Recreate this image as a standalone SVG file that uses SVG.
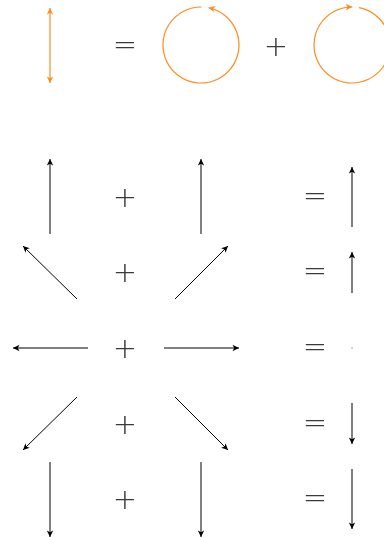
<svg xmlns="http://www.w3.org/2000/svg" width="384" height="537" viewBox="0 0 384 537">
<style>
.op{font-family:"DejaVu Sans","Liberation Sans",sans-serif;font-weight:200;font-size:29px;fill:#3a3a3a;text-anchor:middle}
.ops{filter:url(#gray)}
.k{stroke:#000;stroke-width:1;fill:none;marker-end:url(#ak)}
.o{stroke:#fd8c1f;stroke-width:1.2;fill:none}
</style>
<defs>
<filter id="gray" x="0" y="0" width="1" height="1" filterUnits="objectBoundingBox"><feOffset dx="0" dy="0"/></filter>
<marker id="ak" markerUnits="userSpaceOnUse" markerWidth="10" markerHeight="10" viewBox="-8 -4 10 8" refX="0" refY="0" orient="auto"><path d="M0,0 L-6.5,-3.2 L-4.8,0 L-6.5,3.2 Z" fill="#000"/></marker>
<marker id="ao" markerUnits="userSpaceOnUse" markerWidth="10" markerHeight="10" viewBox="-8 -4 10 8" refX="0" refY="0" orient="auto-start-reverse"><path d="M0,0 L-6.5,-3.2 L-4.8,0 L-6.5,3.2 Z" fill="#fd8c1f"/></marker>
</defs>
<g id="top">
<g id="orange-arrow"><line class="o" x1="50" y1="8" x2="50" y2="83" marker-start="url(#ao)" marker-end="url(#ao)"/></g>
<g id="eq-top" class="ops"><text class="op" x="125" y="53.5">=</text></g>
<g id="circle-ccw"><path class="o" d="M208.5,7.75 A38,38 0 1 1 201.5,7" marker-start="url(#ao)"/></g>
<g id="plus-top" class="ops"><text class="op" x="276" y="55.5">+</text></g>
<g id="circle-cw"><path class="o" d="M359,7.65 A38,38 0 1 1 352.3,7" marker-end="url(#ao)"/></g>
</g>
<g id="operators" class="ops">
<text class="op" x="125" y="206.5">+</text>
<text class="op" x="125" y="281.5">+</text>
<text class="op" x="125" y="357.5">+</text>
<text class="op" x="125" y="433.5">+</text>
<text class="op" x="125" y="508.5">+</text>
<text class="op" x="315" y="204.5">=</text>
<text class="op" x="315" y="279.5">=</text>
<text class="op" x="315" y="355.5">=</text>
<text class="op" x="315" y="431.5">=</text>
<text class="op" x="315" y="506.5">=</text>
</g>
<g id="connectors">
<line class="k" x1="50" y1="234" x2="50" y2="159"/>
<line class="k" x1="201" y1="234" x2="201" y2="159"/>
<line class="k" x1="352" y1="227" x2="352" y2="167"/>
<line class="k" x1="77" y1="299" x2="23" y2="246"/>
<line class="k" x1="175" y1="299" x2="228" y2="246"/>
<line class="k" x1="352" y1="293" x2="352" y2="252"/>
<line class="k" x1="88" y1="348" x2="13" y2="348"/>
<line class="k" x1="164" y1="348" x2="239" y2="348"/>
<line x1="352" y1="347.6" x2="352" y2="348.4" stroke="#000" stroke-width="0.8"/>
<line class="k" x1="77" y1="397" x2="23" y2="450"/>
<line class="k" x1="175" y1="397" x2="228" y2="450"/>
<line class="k" x1="352" y1="403" x2="352" y2="444"/>
<line class="k" x1="50" y1="462" x2="50" y2="537"/>
<line class="k" x1="201" y1="462" x2="201" y2="537"/>
<line class="k" x1="352" y1="469" x2="352" y2="529"/>
</g>
</svg>
